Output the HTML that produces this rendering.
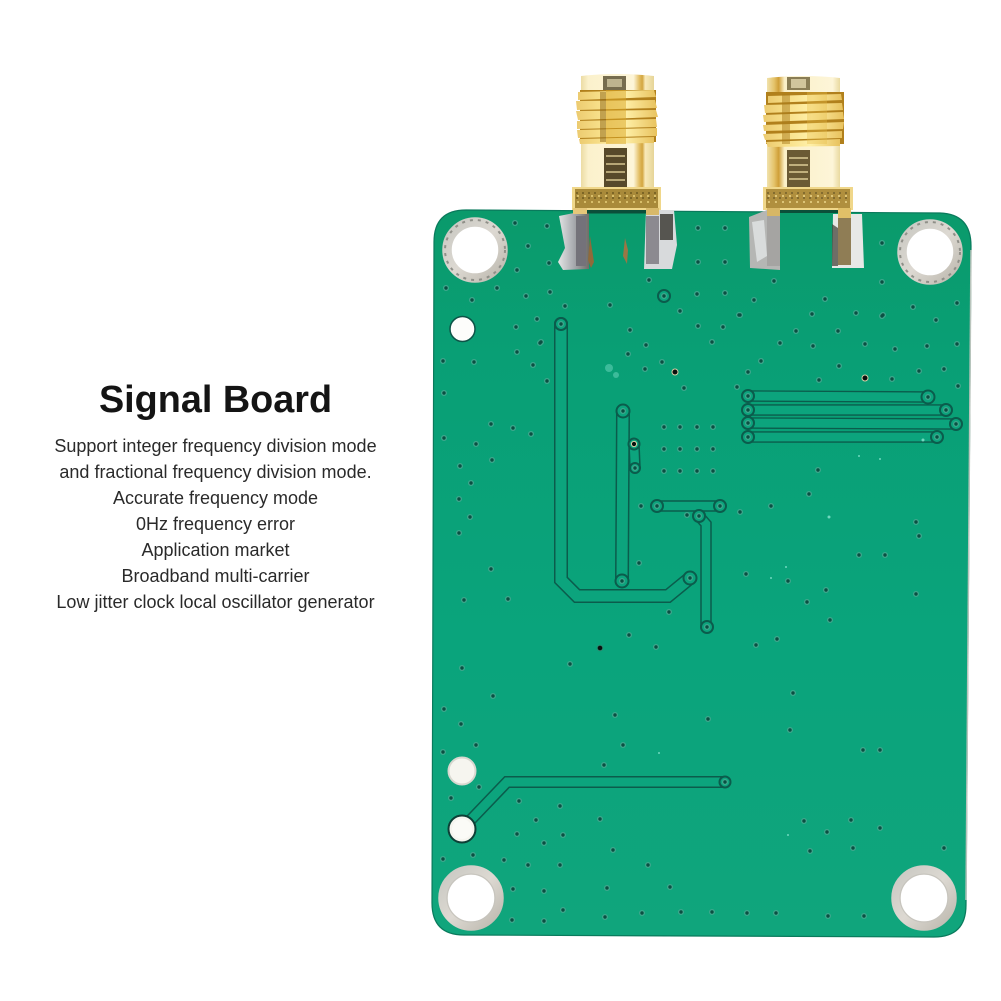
<!DOCTYPE html>
<html><head><meta charset="utf-8"><style>
html,body{margin:0;padding:0;background:#fff;width:1001px;height:1001px;overflow:hidden}
svg{display:block}
text{font-family:"Liberation Sans",Arial,sans-serif;text-anchor:middle}
</style></head><body>
<svg xmlns="http://www.w3.org/2000/svg" width="1001" height="1001" viewBox="0 0 1001 1001">
<defs>
<linearGradient id="bd" x1="0" y1="0" x2="0" y2="1">
<stop offset="0" stop-color="#0a9a6b"/><stop offset=".2" stop-color="#099f75"/><stop offset=".6" stop-color="#0aa47c"/><stop offset="1" stop-color="#10a57c"/>
</linearGradient>
<linearGradient id="cyl" x1="0" y1="0" x2="1" y2="0">
<stop offset="0" stop-color="#ecdca4"/><stop offset=".1" stop-color="#fbf1cc"/><stop offset=".72" stop-color="#fdf5d8"/><stop offset=".8" stop-color="#e2bd62"/><stop offset=".84" stop-color="#d3a640"/><stop offset=".88" stop-color="#f8e9b8"/><stop offset="1" stop-color="#e6d598"/>
</linearGradient>
<linearGradient id="cyr" x1="0" y1="0" x2="1" y2="0">
<stop offset="0" stop-color="#f1e2ad"/><stop offset=".1" stop-color="#e4c268"/><stop offset=".16" stop-color="#cf9f38"/><stop offset=".24" stop-color="#fbf0c8"/><stop offset=".9" stop-color="#fdf5d8"/><stop offset="1" stop-color="#e9d99f"/>
</linearGradient>
<linearGradient id="th" x1="0" y1="0" x2="1" y2="0">
<stop offset="0" stop-color="#eccb70"/><stop offset=".3" stop-color="#f8e08a"/><stop offset=".6" stop-color="#fff0a8"/><stop offset="1" stop-color="#e8c25e"/>
</linearGradient>
<linearGradient id="ring" x1="0" y1="0" x2="1" y2="1">
<stop offset="0" stop-color="#c8c8c2"/><stop offset=".5" stop-color="#ddd9d2"/><stop offset="1" stop-color="#bcb8ae"/>
</linearGradient>
<linearGradient id="sol" x1="0" y1="0" x2="1" y2="0">
<stop offset="0" stop-color="#e4e6e6"/><stop offset=".5" stop-color="#a9abb0"/><stop offset="1" stop-color="#6f6d68"/>
</linearGradient>
<path id="v" d="M630 330h0M698 326h0M723 327h0M739 315h0M812 314h0M856 313h0M883 315h0M936 320h0M796 331h0M838 331h0M712 342h0M646 345h0M628 354h0M662 362h0M645 369h0M684 388h0M780 343h0M813 346h0M865 344h0M895 349h0M927 346h0M957 344h0M761 361h0M748 372h0M839 366h0M819 380h0M892 379h0M919 371h0M944 369h0M958 386h0M737 387h0M541 342h0M547 381h0M664 427h0M680 427h0M697 427h0M713 427h0M664 449h0M680 449h0M697 449h0M713 449h0M664 471h0M680 471h0M697 471h0M713 471h0M641 506h0M687 515h0M740 512h0M771 506h0M818 470h0M809 494h0M639 563h0M669 612h0M746 574h0M788 581h0M826 590h0M807 602h0M830 620h0M859 555h0M885 555h0M916 522h0M919 536h0M916 594h0M629 635h0M777 639h0M515 223h0M547 226h0M528 246h0M549 263h0M517 270h0M698 228h0M725 228h0M698 262h0M725 262h0M774 281h0M882 243h0M882 282h0M649 280h0M664 296h0M446 288h0M497 288h0M472 300h0M526 296h0M550 292h0M565 306h0M610 305h0M697 294h0M725 293h0M680 311h0M740 315h0M754 300h0M825 299h0M882 316h0M913 307h0M957 303h0M537 319h0M516 327h0M540 343h0M517 352h0M476 745h0M443 752h0M623 745h0M604 765h0M863 750h0M880 750h0M479 787h0M451 798h0M519 801h0M560 806h0M536 820h0M600 819h0M517 834h0M563 835h0M544 843h0M613 850h0M473 855h0M443 859h0M504 860h0M528 865h0M560 865h0M648 865h0M513 889h0M544 891h0M607 888h0M670 887h0M563 910h0M512 920h0M544 921h0M605 917h0M642 913h0M681 912h0M712 912h0M747 913h0M776 913h0M828 916h0M864 916h0M804 821h0M851 820h0M827 832h0M880 828h0M810 851h0M853 848h0M944 848h0M533 365h0M443 361h0M474 362h0M444 393h0M491 424h0M513 428h0M531 434h0M444 438h0M476 444h0M492 460h0M460 466h0M471 483h0M459 499h0M470 517h0M459 533h0M491 569h0M464 600h0M508 599h0M462 668h0M493 696h0M444 709h0M461 724h0M656 647h0M570 664h0M756 645h0M793 693h0M615 715h0M708 719h0M790 730h0M748 396h0M928 397h0M748 410h0M946 410h0M748 423h0M956 424h0M748 437h0M937 437h0M657 506h0M720 506h0M699 516h0M707 627h0M690 578h0M622 581h0M623 411h0M635 468h0M561 324h0M725 782h0"/>
</defs>

<!-- text -->
<text x="215.5" y="412" font-size="37.800" font-weight="700" fill="#141414">Signal Board</text>
<g font-size="18" fill="#2a2a2a">
<text x="215.5" y="452">Support integer frequency division mode</text>
<text x="215.5" y="478">and fractional frequency division mode.</text>
<text x="215.5" y="504">Accurate frequency mode</text>
<text x="215.5" y="530">0Hz frequency error</text>
<text x="215.5" y="556">Application market</text>
<text x="215.5" y="582">Broadband multi-carrier</text>
<text x="215.5" y="608">Low jitter clock local oscillator generator</text>
</g>

<!-- board -->
<path d="M466 210 L940 213 Q971 214 971 246 L966 905 Q966 937 934 937 L464 935 Q432 935 432 903 L434 242 Q434 210 466 210Z" fill="url(#bd)" stroke="#0a7a5c" stroke-width="1.2"/>
<path d="M971 250 L966 900" stroke="#b9c4bc" stroke-width="1.5" fill="none"/>

<!-- traces -->
<g fill="none" stroke-linecap="round" stroke-linejoin="miter">
<g stroke="#0b5c4c">
<path stroke-width="14" d="M561 324V580L577 596H668L690 578"/>
<path stroke-width="14" d="M623 411L622 581"/>
<path d="M634 444L635 468" stroke-width="11.500"/>
<path d="M657 506H720" stroke-width="11.500"/>
<path d="M699 516L706 524V627" stroke-width="11.500"/>
<path d="M748 396L928 397" stroke-width="11.500"/>
<path d="M748 410H946" stroke-width="11.500"/>
<path d="M748 423L956 424" stroke-width="11.500"/>
<path d="M748 437H937" stroke-width="11.500"/>
<path d="M462 829L507 782H725" stroke-width="12"/>
</g>
<g stroke="#0ca47d">
<path stroke-width="11" d="M561 324V580L577 596H668L690 578"/>
<path stroke-width="11" d="M623 411L622 581"/>
<path d="M634 444L635 468" stroke-width="8.500"/>
<path d="M657 506H720" stroke-width="8.500"/>
<path d="M699 516L706 524V627" stroke-width="8.500"/>
<path d="M748 396L928 397" stroke-width="8.800"/>
<path d="M748 410H946" stroke-width="8.800"/>
<path d="M748 423L956 424" stroke-width="8.800"/>
<path d="M748 437H937" stroke-width="8.800"/>
<path d="M462 829L507 782H725" stroke-width="9"/>
</g>
</g>

<!-- via rings on trace ends -->
<g fill="#0ca47d" stroke="#0b5c4c" stroke-width="2">
<circle cx="748" cy="396" r="6"/><circle cx="928" cy="397" r="6.500"/>
<circle cx="748" cy="410" r="6"/><circle cx="946" cy="410" r="6"/>
<circle cx="748" cy="423" r="6"/><circle cx="956" cy="424" r="6"/>
<circle cx="748" cy="437" r="6"/><circle cx="937" cy="437" r="6"/>
<circle cx="657" cy="506" r="6"/><circle cx="720" cy="506" r="6"/>
<circle cx="699" cy="516" r="6"/><circle cx="707" cy="627" r="6"/>
<circle cx="690" cy="578" r="6.500"/><circle cx="622" cy="581" r="6.500"/>
<circle cx="623" cy="411" r="6.500"/><circle cx="635" cy="468" r="5"/>
<circle cx="634" cy="444" r="5.500"/><circle cx="561" cy="324" r="6"/>
<circle cx="725" cy="782" r="5.500"/><circle cx="664" cy="296" r="6"/>
</g>

<!-- vias -->
<g fill="none" stroke-linecap="round">
<use href="#v" stroke="#3fa78d" stroke-width="6"/>
<use href="#v" stroke="#0b4f42" stroke-width="3.400"/>
</g>
<!-- black vias -->
<g fill="#0a0f0d" stroke="#d8d0a8" stroke-width="1">
<circle cx="675" cy="372" r="3"/><circle cx="865" cy="378" r="3"/><circle cx="634" cy="444" r="2.600"/><circle cx="600" cy="648" r="2.800" stroke="#2a8a70"/>
</g>

<!-- mounting holes -->
<g fill="#fff" stroke="url(#ring)" stroke-width="9.500">
<circle cx="475" cy="250" r="28"/><circle cx="930" cy="252" r="28"/>
<circle cx="471" cy="898" r="28"/><circle cx="924" cy="898" r="28"/>
</g>
<g fill="none" stroke="#8f8f88" stroke-width="2" stroke-dasharray="3 5">
<circle cx="475" cy="250" r="30"/><circle cx="930" cy="252" r="30"/>
</g>
<g fill="none" stroke="#c6c4bd" stroke-width="1">
<circle cx="471" cy="898" r="24"/><circle cx="924" cy="898" r="24"/>
</g>

<!-- small holes -->
<circle cx="462.500" cy="329" r="12.500" fill="#fdfdfb" stroke="#0d5347" stroke-width="1.500"/>
<circle cx="462" cy="771" r="13.500" fill="#f6f5ef" stroke="#d8d7cf" stroke-width="2"/>
<circle cx="462" cy="829" r="13.500" fill="#f6f5ef" stroke="#0d3f36" stroke-width="2"/>
<circle cx="462" cy="829" r="10" fill="#fbfbf7"/>

<!-- left connector -->
<g>
<path d="M581 76Q617 72 654 76V187H581Z" fill="url(#cyl)"/>
<rect x="603" y="76" width="23" height="14" fill="#4a3f22" opacity=".75"/>
<rect x="607" y="79" width="15" height="8" fill="#efe4ba" opacity=".6"/>
<rect x="604" y="148" width="23" height="39" fill="#57492a"/>
<g fill="#d6c590" opacity=".75"><rect x="606" y="155" width="19" height="2"/><rect x="606" y="163" width="19" height="2"/><rect x="606" y="171" width="19" height="2"/><rect x="606" y="179" width="19" height="2"/></g>
<rect x="580" y="90" width="76" height="52" fill="#b1801c"/>
<g fill="url(#th)">
<path d="M578 92L654 90L656 97L578 100Z"/><path d="M576 101L655 100L657 108L577 110Z"/><path d="M576 111L656 110L658 117L578 120Z"/><path d="M577 121L656 119L657 127L577 129Z"/><path d="M577 130L657 128L657 136L578 138Z"/><path d="M579 139L654 137L654 143L580 144Z"/>
</g>
<rect x="600" y="92" width="6" height="50" fill="#8a6212" opacity=".5"/>
<rect x="606" y="90" width="20" height="54" fill="#d7a324" opacity=".5"/>
<rect x="572" y="187" width="89" height="23" fill="#f0d78a"/>
<rect x="575" y="189" width="83" height="19" fill="#a98a3a"/>
<g stroke="#6f5a20" stroke-width="1.600" stroke-dasharray="2 4"><path d="M576 193H657M576 198H657"/></g>
<g stroke="#e8cf7a" stroke-width="1.400" stroke-dasharray="2 5"><path d="M577 196H657M577 202H657"/></g>
<path d="M559 216L574 213L589 212V269L563 270L558 262L565 248Z" fill="url(#sol)"/>
<rect x="573" y="208" width="14" height="6" fill="#e6c77a"/>
<rect x="576" y="216" width="10" height="50" fill="#74727a"/>
<path d="M646 210H674L677 245L672 269L644 269Z" fill="#d8dadc"/>
<rect x="646" y="216" width="13" height="48" fill="#8c8a90"/>
<rect x="660" y="214" width="13" height="26" fill="#565550"/>
<rect x="646" y="208" width="13" height="7" fill="#d8b96a"/>
<path d="M590 236l4 26l-3 6l-3-8z" fill="#8f6a3a"/>
<path d="M625 238l3 12l-1 14l-4-8z" fill="#9a7645"/>
<rect x="587" y="210" width="59" height="3.500" fill="#0b4f3a"/>
</g>

<!-- right connector -->
<g>
<path d="M767 78Q804 74 840 78V187H767Z" fill="url(#cyr)"/>
<rect x="787" y="77" width="23" height="13" fill="#5a4b22" opacity=".7"/>
<rect x="791" y="79" width="15" height="9" fill="#efe4ba" opacity=".7"/>
<rect x="787" y="150" width="23" height="37" fill="#6b5a34"/>
<g fill="#d6c590" opacity=".8"><rect x="789" y="157" width="19" height="2"/><rect x="789" y="164" width="19" height="2"/><rect x="789" y="171" width="19" height="2"/><rect x="789" y="178" width="19" height="2"/></g>
<rect x="766" y="92" width="78" height="52" fill="#b1801c"/>
<g fill="url(#th)">
<path d="M768 96L841 94L842 100L768 103Z"/><path d="M764 105L842 103L843 110L765 113Z"/><path d="M763 115L843 112L844 119L764 122Z"/><path d="M763 125L844 122L843 129L764 131Z"/><path d="M763 134L842 131L842 138L765 140Z"/><path d="M766 142L840 139L840 146L768 147Z"/>
</g>
<rect x="782" y="94" width="8" height="50" fill="#a97c1c" opacity=".5"/>
<rect x="807" y="92" width="20" height="52" fill="#e5bb44" opacity=".35"/>
<rect x="763" y="187" width="90" height="23" fill="#f0d78a"/>
<rect x="766" y="189" width="84" height="19" fill="#b08f3e"/>
<g stroke="#75602a" stroke-width="1.600" stroke-dasharray="2 4"><path d="M767 193H849M767 198H849"/></g>
<g stroke="#ecd58a" stroke-width="1.400" stroke-dasharray="2 5"><path d="M768 196H849M768 202H849"/></g>
<path d="M749 217L767 210H780V270L750 268Z" fill="#b5b6b4"/>
<rect x="767" y="216" width="13" height="50" fill="#a5a4a2"/>
<path d="M752 222l12-2l3 36l-10 6z" fill="#d9dcdc"/>
<rect x="767" y="208" width="13" height="8" fill="#d7b766"/>
<path d="M832 268L833 214H862L864 268Z" fill="#e7e8e6"/>
<rect x="838" y="218" width="13" height="47" fill="#8f7d55"/>
<rect x="838" y="208" width="13" height="10" fill="#e1c068"/>
<path d="M832 224l6 4v38h-6z" fill="#3a3a30" opacity=".7"/>
<rect x="780" y="210" width="58" height="3" fill="#0b4f3a"/>
</g>

<!-- specks -->
<g fill="#6fd8bf">
<circle cx="829" cy="517" r="1.500"/><circle cx="880" cy="459" r="1"/><circle cx="923" cy="440" r="1.500"/><circle cx="859" cy="456" r="1"/><circle cx="609" cy="368" r="4" opacity=".5"/><circle cx="616" cy="375" r="3" opacity=".5"/><circle cx="771" cy="578" r="1"/><circle cx="786" cy="567" r="1"/><circle cx="788" cy="835" r="1"/><circle cx="659" cy="753" r="1"/>
</g>
</svg>
</body></html>
